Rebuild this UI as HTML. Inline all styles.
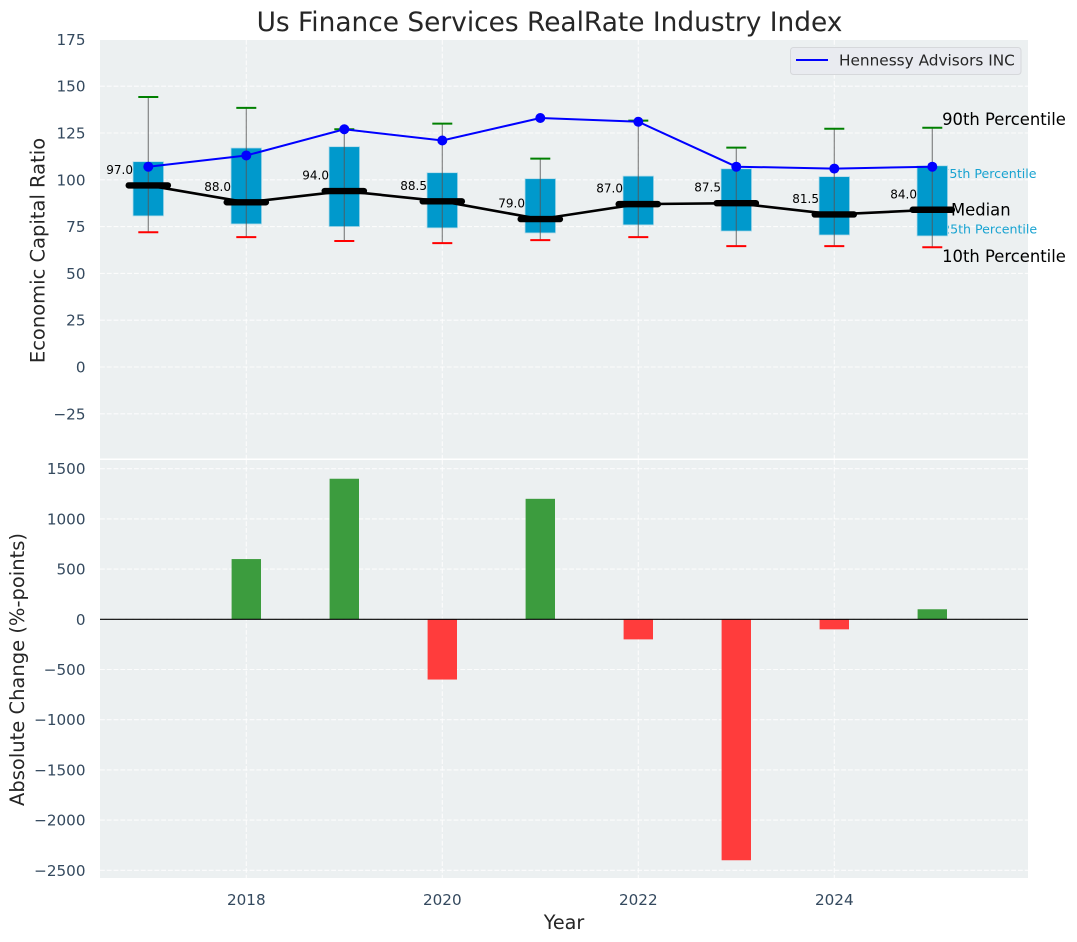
<!DOCTYPE html>
<html>
<head>
<meta charset="utf-8">
<title>Us Finance Services RealRate Industry Index</title>
<style>
html,body{margin:0;padding:0;background:#fff;}
svg{display:block;}
text{font-family:"DejaVu Sans","Liberation Sans",sans-serif;}
</style>
</head>
<body>
<svg id="chart" xmlns="http://www.w3.org/2000/svg" width="1077" height="942" viewBox="0 0 1077 942">
  <rect x="100" y="40" width="928" height="418.5" fill="#ecf0f1"/>
  <rect x="100" y="460" width="928" height="418" fill="#ecf0f1"/>
  <g id="grid"></g>
  <g id="bars"></g>
  <g id="boxes"></g>
  <g id="ticks"></g>
  <text x="549.5" y="31" text-anchor="middle" font-size="26.4" fill="#262626">Us Finance Services RealRate Industry Index</text>
  <text transform="translate(44.5 250.5) rotate(-90)" text-anchor="middle" font-size="19.5" fill="#262626">Economic Capital Ratio</text>
  <text transform="translate(24 669.5) rotate(-90)" text-anchor="middle" font-size="19.5" fill="#262626">Absolute Change (%-points)</text>
  <text x="564" y="929" text-anchor="middle" font-size="19.2" fill="#262626">Year</text>
  <g>
    <rect x="790.5" y="47.5" width="230.5" height="27" rx="3" fill="#e9ebf0" stroke="#d6d8db" stroke-width="1"/>
    <line x1="796" y1="60" x2="828" y2="60" stroke="#0000ff" stroke-width="2"/>
    <text x="839" y="65.5" font-size="15.3" fill="#262626">Hennessy Advisors INC</text>
  </g>
</svg>
<script>
var years = [2017, 2018, 2019, 2020, 2021, 2022, 2023, 2024, 2025];
var p90 = [144.2, 138.4, 127, 130, 111.3, 131.6, 117.2, 127.3, 127.8];
var p75 = [109.7, 117, 117.7, 103.8, 100.6, 102, 105.9, 101.7, 107.5];
var medians = [97, 88, 94, 88.5, 79, 87, 87.5, 81.5, 84];
var p25 = [80.7, 76.4, 75, 74.3, 71.6, 75.9, 72.6, 70.5, 70];
var p10 = [72, 69.4, 67.3, 66.2, 67.8, 69.4, 64.6, 64.6, 64];
var company = [107, 113, 127, 121, 133, 131, 107, 106, 107];
var changes = [0, 600, 1400, -600, 1200, -200, -2400, -100, 100];
var topTicks = [-25, 0, 25, 50, 75, 100, 125, 150, 175];
var bottomTicks = [-2500, -2000, -1500, -1000, -500, 0, 500, 1000, 1500];
var xTicks = [2018, 2020, 2022, 2024];

var NS = 'http://www.w3.org/2000/svg';
function X(v) { return 148.3 + (v - 2017) * 98; }
function Y1(v) { return 367 - v * 1.872; }
function Y2(v) { return 619.3 - v * 0.1004; }
function fmt(v) { return String(v).replace('-', '\u2212'); }
function make(parent, tag, attrs, text) {
  var el = document.createElementNS(NS, tag);
  for (var k in attrs) el.setAttribute(k, attrs[k]);
  if (text !== undefined) el.textContent = text;
  parent.appendChild(el);
  return el;
}
var grid = document.getElementById('grid');
var bars = document.getElementById('bars');
var boxes = document.getElementById('boxes');
var ticks = document.getElementById('ticks');
var gridStyle = {stroke: '#ffffff', 'stroke-width': 1.1, 'stroke-dasharray': '4.8 2', opacity: 0.85};
function gridLine(x1, y1, x2, y2) {
  var a = {x1: x1, y1: y1, x2: x2, y2: y2};
  for (var k in gridStyle) a[k] = gridStyle[k];
  var el = make(grid, 'line', a);
  
  
}
topTicks.forEach(function (t) {
  if (t < 175) gridLine(100, Y1(t), 1028, Y1(t));
  var el = make(ticks, 'text', {x: 85.5, y: Y1(t) + 5.5, 'text-anchor': 'end', 'font-size': 15.2, fill: '#34495e'}, fmt(t));
  
  
});
bottomTicks.forEach(function (t) {
  gridLine(100, Y2(t), 1028, Y2(t));
  var el = make(ticks, 'text', {x: 85.5, y: Y2(t) + 5.5, 'text-anchor': 'end', 'font-size': 15.2, fill: '#34495e'}, fmt(t));
  
  
});
xTicks.forEach(function (t) {
  gridLine(X(t), 40, X(t), 458.5);
  gridLine(X(t), 460, X(t), 878);
  var el = make(ticks, 'text', {x: X(t), y: 905, 'text-anchor': 'middle', 'font-size': 15.2, fill: '#34495e'}, String(t));
  
  
});
years.forEach(function (yr, i) {
  var v = changes[i];
  if (v === 0) return;
  var top = Math.min(Y2(v), Y2(0));
  var el = make(bars, 'rect', {x: X(yr - 0.15), y: top, width: X(yr + 0.15) - X(yr - 0.15), height: Math.abs(Y2(v) - Y2(0)), fill: v > 0 ? '#3c9c3e' : '#ff3c3c'});
  
  
});
var zero = make(bars, 'line', {x1: 100, x2: 1028, y1: Y2(0), y2: Y2(0), stroke: '#000000', 'stroke-width': 1.2});



var last = years.length - 1;
var lastX = X(years[last]);
var pctBack = [
  {label: '75th Percentile', v: p75[last], dx: 9.1, dy: 12, size: 12.6, color: '#19a3d1'},
  {label: '25th Percentile', v: p25[last], dx: 9.8, dy: -2.5, size: 12.6, color: '#19a3d1'}
];
pctBack.forEach(function (p) {
  var el = make(boxes, 'text', {x: lastX + p.dx, y: Y1(p.v) + p.dy, 'font-size': p.size, fill: p.color}, p.label);
  
  
});
years.forEach(function (yr, i) {
  var x = X(yr);
  var box = make(boxes, 'rect', {x: x - 15.3, y: Y1(p75[i]), width: 30.6, height: Y1(p25[i]) - Y1(p75[i]), fill: '#0099cc', stroke: '#b5dcea', 'stroke-width': 0.8});
  
  
  var wh = make(boxes, 'line', {x1: x, x2: x, y1: Y1(p90[i]), y2: Y1(p10[i]), stroke: '#555555', 'stroke-opacity': 0.7, 'stroke-width': 1.2});
  
  
  var capHi = make(boxes, 'line', {x1: x - 10, x2: x + 10, y1: Y1(p90[i]), y2: Y1(p90[i]), stroke: '#008000', 'stroke-width': 2});
  
  
  var capLo = make(boxes, 'line', {x1: x - 10, x2: x + 10, y1: Y1(p10[i]), y2: Y1(p10[i]), stroke: '#ff0000', 'stroke-width': 2});
  
  
});
var medPts = years.map(function (yr, i) { return X(yr) + ',' + Y1(medians[i]); }).join(' ');
var medLine = make(boxes, 'polyline', {points: medPts, fill: 'none', stroke: '#000000', 'stroke-width': 2.6});


years.forEach(function (yr, i) {
  var m = make(boxes, 'line', {x1: X(yr) - 19.6, x2: X(yr) + 19.6, y1: Y1(medians[i]), y2: Y1(medians[i]), stroke: '#000000', 'stroke-width': 6.4, 'stroke-linecap': 'round'});
  
  
  var t = make(boxes, 'text', {x: X(yr) - 15.3, y: Y1(medians[i]) - 11.5, 'text-anchor': 'end', 'font-size': 12, fill: '#000000'}, medians[i].toFixed(1));
  
  
});
var coPts = years.map(function (yr, i) { return X(yr) + ',' + Y1(company[i]); }).join(' ');
var coLine = make(boxes, 'polyline', {points: coPts, fill: 'none', stroke: '#0000ff', 'stroke-width': 2});


years.forEach(function (yr, i) {
  var c = make(boxes, 'circle', {cx: X(yr), cy: Y1(company[i]), r: 5, fill: '#0000ff'});
  
  
});
var pctFront = [
  {label: '90th Percentile', x: 9.8, v: p90[last], dy: -3, size: 16.4},
  {label: 'Median', x: 18.7, v: medians[last], dy: 5.8, size: 16.4},
  {label: '10th Percentile', x: 9.8, v: p10[last], dy: 15, size: 16.4}
];
pctFront.forEach(function (p) {
  var el = make(boxes, 'text', {x: lastX + p.x, y: Y1(p.v) + p.dy, 'font-size': p.size, fill: '#000000'}, p.label);
  
  
});
</script>
</body>
</html>
